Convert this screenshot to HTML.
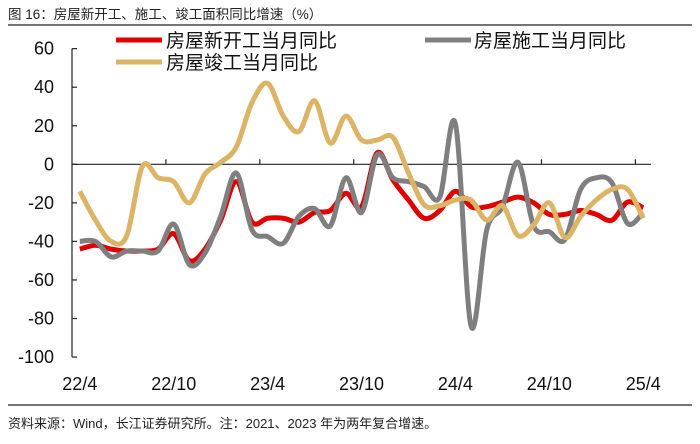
<!DOCTYPE html>
<html><head><meta charset="utf-8"><style>
body{margin:0;background:#fff;}
svg text{font-family:"Liberation Sans","Noto Sans CJK SC",sans-serif;}
</style></head><body>
<svg id="chart" width="700" height="439" viewBox="0 0 700 439" xmlns="http://www.w3.org/2000/svg">
<text x="8" y="19" font-size="13.5" fill="#222">图 16：房屋新开工、施工、竣工面积同比增速（%）</text>
<line x1="8" y1="25" x2="692" y2="25" stroke="#222" stroke-width="1.2"/>
<line x1="8" y1="405" x2="692" y2="405" stroke="#222" stroke-width="1.2"/>
<text x="8" y="428" font-size="13" fill="#222">资料来源：Wind，长江证券研究所。注：2021、2023 年为两年复合增速。</text>
<g id="axes"></g>
<g id="series"></g>
<g>
<line x1="116" y1="40" x2="162" y2="40" stroke="#e00000" stroke-width="5"/>
<text x="166" y="47" font-size="19" fill="#111">房屋新开工当月同比</text>
<line x1="425" y1="40" x2="471" y2="40" stroke="#7f7f7f" stroke-width="5"/>
<text x="474" y="47" font-size="19" fill="#111">房屋施工当月同比</text>
<line x1="116" y1="62" x2="162" y2="62" stroke="#dcb466" stroke-width="5"/>
<text x="166" y="69" font-size="19" fill="#111">房屋竣工当月同比</text>
</g>
</svg>
<script>
const xLabels=["22/4","22/10","23/4","23/10","24/4","24/10","25/4"];
const yTicks=[60,40,20,0,-20,-40,-60,-80,-100];
const newStarts=[-44,-42,-44,-45,-45,-44,-36,-50,-44,-29,-9,-30,-28,-28,-30,-25,-24,-15,-22,6,-8,-18.5,-28,-24,-14,-22,-22,-19.6,-17,-20,-26,-26,-24,-26,-29,-19.6,-22.6];
const underConstruction=[-40,-40,-48,-45,-45,-45,-31,-52,-46,-27,-4.5,-34,-37.5,-41,-27,-23,-32,-7,-25,5,-7,-9,-11.6,-17,21,-84,-34,-22,1,-32,-35,-39,-13,-7,-9.6,-30.7,-25];
const completions=[-14,-29,-40,-37,-1,-7,-9,-20,-5,1,9,32,42,25,17,33,11,25,12.6,12.6,14,-4.5,-21,-21.5,-18.5,-18.5,-29,-21.5,-37,-31.5,-20,-38,-27,-18.5,-13,-13,-28];
const NS="http://www.w3.org/2000/svg";
const x0=72,step=15.65;
function xs(i){return x0+step*(i+0.5);}
function ys(v){return 164.3-(v*1.9275);}
const ax=document.getElementById('axes');
function mk(t,a,p){const e=document.createElementNS(NS,t);for(const k in a)e.setAttribute(k,a[k]);p.appendChild(e);return e;}
const yaxis=mk('line',{x1:x0,y1:ys(60),x2:x0,y2:ys(-100),stroke:'#222','stroke-width':1.2},ax);


yTicks.forEach(v=>{
 const t=mk('line',{x1:x0,y1:ys(v),x2:x0+5,y2:ys(v),stroke:'#222','stroke-width':1.2},ax);
 
 
 const l=mk('text',{x:54,y:ys(v)+6,'font-size':18,'text-anchor':'end',fill:'#111'},ax);
 l.textContent=v;
 
 
});
const n=newStarts.length;
const xaxis=mk('line',{x1:x0,y1:ys(0),x2:x0+step*n,y2:ys(0),stroke:'#222','stroke-width':1.2},ax);


for(let k=1;k<=6;k++){
 const tx=x0+step*6*k;
 const t=mk('line',{x1:tx,y1:ys(0),x2:tx,y2:ys(0)-5,stroke:'#222','stroke-width':1.2},ax);
 
 
}
xLabels.forEach((s,k)=>{
 const l=mk('text',{x:xs(k*6),y:390,'font-size':18,'text-anchor':'middle',fill:'#111'},ax);
 l.textContent=s;
 
 
});
function path(arr){
 const p=arr.map((v,i)=>[xs(i),ys(v)]);
 let d='M'+p[0][0]+','+p[0][1];
 for(let i=0;i<p.length-1;i++){
  const a=p[Math.max(0,i-1)],b=p[i],c=p[i+1],e=p[Math.min(p.length-1,i+2)];
  const t=6;
  d+=' C'+(b[0]+(c[0]-a[0])/t)+','+(b[1]+(c[1]-a[1])/t)+' '+(c[0]-(e[0]-b[0])/t)+','+(c[1]-(e[1]-b[1])/t)+' '+c[0]+','+c[1];
 }
 return d;
}
const sg=document.getElementById('series');
const s1=mk('path',{d:path(newStarts),fill:'none',stroke:'#e00000','stroke-width':5,'stroke-linejoin':'round'},sg);


const s2=mk('path',{d:path(underConstruction),fill:'none',stroke:'#7f7f7f','stroke-width':5,'stroke-linejoin':'round'},sg);


const s3=mk('path',{d:path(completions),fill:'none',stroke:'#dcb466','stroke-width':5,'stroke-linejoin':'round'},sg);


</script>
</body></html>
